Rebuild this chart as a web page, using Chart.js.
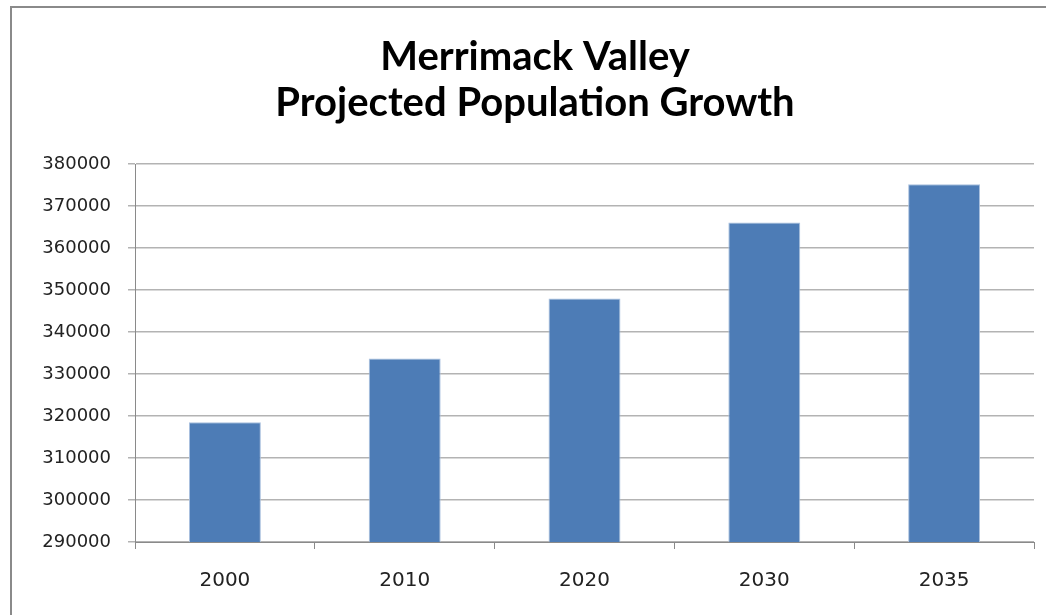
<!DOCTYPE html>
<html>
<head>
<meta charset="utf-8">
<script src="https://cdn.jsdelivr.net/npm/chart.js@4"></script>
<style>
  html, body { margin: 0; padding: 0; background: #fff; overflow: hidden; }
  #frame {
    position: absolute; left: 10px; top: 6px;
    width: 1048px; height: 608px;
    border-left: 2px solid #8a8a8a; border-top: 2px solid #8a8a8a;
  }
  #wrap { position: absolute; left: 11px; top: 7px; width: 1048px; height: 608px; }
</style>
</head>
<body>
<div id="frame"></div>
<div id="wrap"><canvas id="chart"></canvas></div>
<script>
// Data
const years = ["2000", "2010", "2020", "2030", "2035"];
const population = [318500, 333700, 348000, 366100, 375200];
const titleLines = ["Merrimack Valley", "Projected Population Growth"];
const yMin = 290000;
const yMax = 380000;
const yStep = 10000;

const gridColor = "#b3b3b3";
const axisColor = "#8a8a8a";

const ctx = document.querySelector("#chart");
new Chart(ctx, {
  type: "bar",
  data: {
    labels: years,
    datasets: [{
      data: population,
      backgroundColor: "#4d7cb6",
      borderColor: "#a9c0de",
      borderWidth: 1,
      barPercentage: 0.4,
      categoryPercentage: 1
    }]
  },
  options: {
    responsive: true,
    maintainAspectRatio: false,
    animation: false,
    // equal side padding keeps the title centred on the frame
    layout: { padding: { left: 25, right: 25, top: 0, bottom: 0 } },
    plugins: {
      legend: { display: false },
      tooltip: { enabled: false },
      title: {
        display: true,
        text: titleLines,
        color: "#000",
        font: { family: "Lato", weight: "bold", size: 40, lineHeight: 1.15 },
        padding: { top: 27, bottom: 38 }
      }
    },
    scales: {
      x: {
        grid: {
          drawOnChartArea: false,
          drawTicks: true,
          tickLength: 7,
          color: axisColor
        },
        border: { color: axisColor },
        ticks: {
          color: "#222",
          font: { family: "DejaVu Sans", size: 20 },
          padding: 20
        },
        afterFit: s => { s.height = 73; }
      },
      y: {
        min: yMin,
        max: yMax,
        grid: { color: gridColor, tickLength: 7, lineWidth: 1.5 },
        border: { color: axisColor },
        ticks: {
          stepSize: yStep,
          color: "#222",
          font: { family: "DejaVu Sans", size: 18 },
          padding: 17,
          callback: v => String(v)
        },
        afterFit: s => { s.width = 99; }
      }
    }
  }
});
</script>
</body>
</html>
